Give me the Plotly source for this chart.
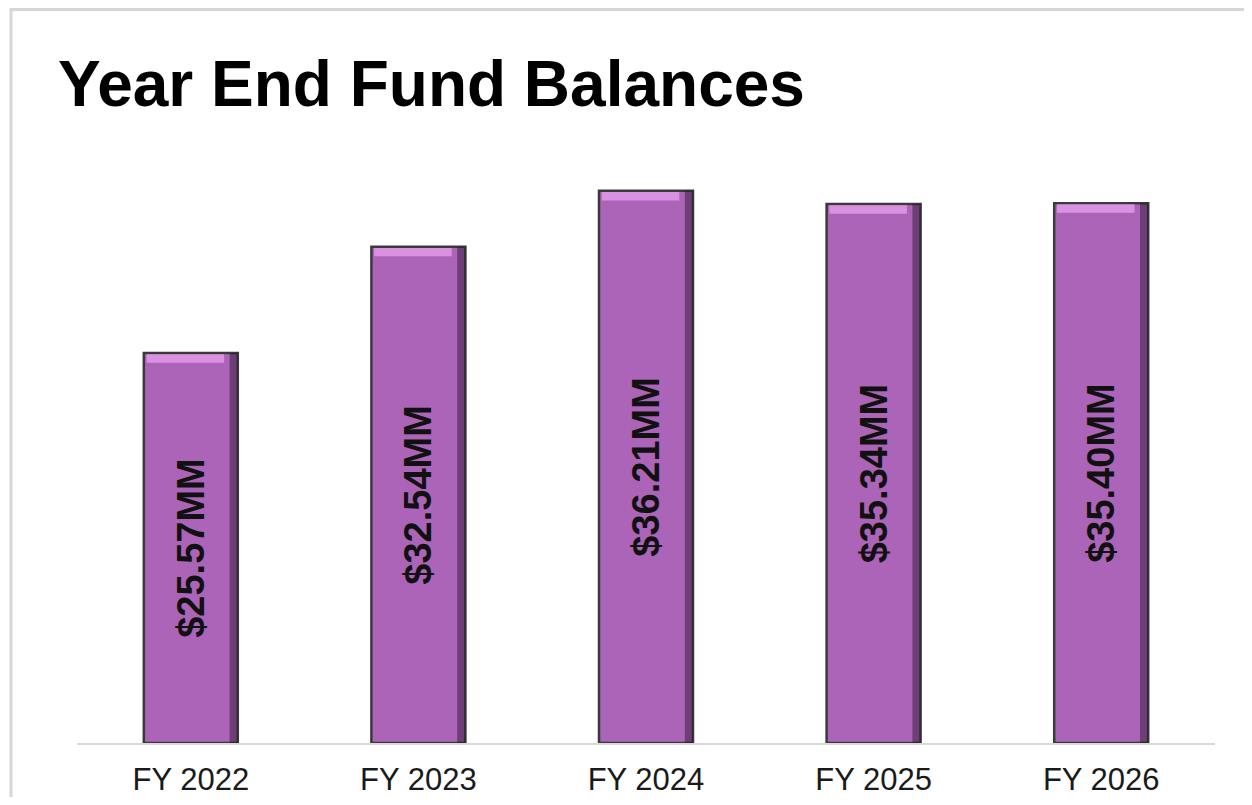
import plotly.graph_objects as go

categories = ["FY 2022", "FY 2023", "FY 2024", "FY 2025", "FY 2026"]
balances = [25.57, 32.54, 36.21, 35.34, 35.40]
labels = ["$25.57MM", "$32.54MM", "$36.21MM", "$35.34MM", "$35.40MM"]

OFF = 8  # default body margin of the page
W, H = 1252 - 2 * OFF, 805 - 2 * OFF
# plot area in page pixels: x 77..1215, y 150..743
L, R, T, B = 77 - OFF, W - (1215 - OFF), 150 - OFF, H - (743 - OFF)
pw, ph = W - L - R, H - T - B

def px_x(p):
    return (p - OFF - L) / pw

def px_y(p):
    return 1 - (p - OFF - T) / ph

font = "Liberation Sans, Arial"
BAR_W = 0.413
STRIP_W = 0.036
HL_H = 0.55  # highlight band thickness, in axis units (style)

fig = go.Figure()
fig.add_trace(go.Bar(
    x=categories, y=balances, text=labels, texttemplate="<b>%{text}</b>",
    textposition="inside", insidetextanchor="middle", textangle=-90,
    textfont=dict(family=font, size=38, color="#111111"),
    marker=dict(color="#ab64b8", line=dict(color="#3a3a3a", width=2.5)),
    width=BAR_W, hoverinfo="skip",
))
# dark shading strip on the right edge of each bar
fig.add_trace(go.Bar(
    x=categories, y=balances, width=STRIP_W, offset=BAR_W / 2 - STRIP_W,
    marker=dict(color="rgba(35,15,40,0.45)", line=dict(width=0)),
    hoverinfo="skip",
))
# light bevel highlight at the top of each bar
fig.add_trace(go.Bar(
    x=categories, y=[HL_H] * len(balances), base=[v - HL_H - 0.08 for v in balances],
    width=BAR_W - 2 * STRIP_W, offset=-BAR_W / 2 + 0.012,
    marker=dict(color="rgba(235,160,240,0.75)", line=dict(width=0)),
    hoverinfo="skip",
))

fig.add_annotation(
    text="<b>Year End Fund Balances</b>", xref="paper", yref="paper",
    x=px_x(55.5), y=px_y(83.5), xanchor="left", yanchor="middle", showarrow=False,
    font=dict(family=font, size=64, color="#000000"),
)

fig.add_shape(type="rect", xref="paper", yref="paper",
              x0=px_x(11), x1=px_x(1275), y0=px_y(9.5), y1=px_y(830),
              line=dict(color="#d6d6d6", width=3), layer="below")

fig.update_layout(
    width=W, height=H, margin=dict(l=L, r=R, t=T, b=B, autoexpand=False),
    paper_bgcolor="white", plot_bgcolor="white", showlegend=False,
    barmode="overlay",
    xaxis=dict(showline=True, linecolor="#d9d9d9", linewidth=1.5, ticks="",
               tickfont=dict(family=font, size=31, color="#1a1a1a"),
               ticklabelstandoff=8, showgrid=False, fixedrange=True,
               automargin=False),
    yaxis=dict(range=[0, ph / 15.25], visible=False, showgrid=False,
               fixedrange=True, automargin=False),
)

fig.write_html("out.html")
